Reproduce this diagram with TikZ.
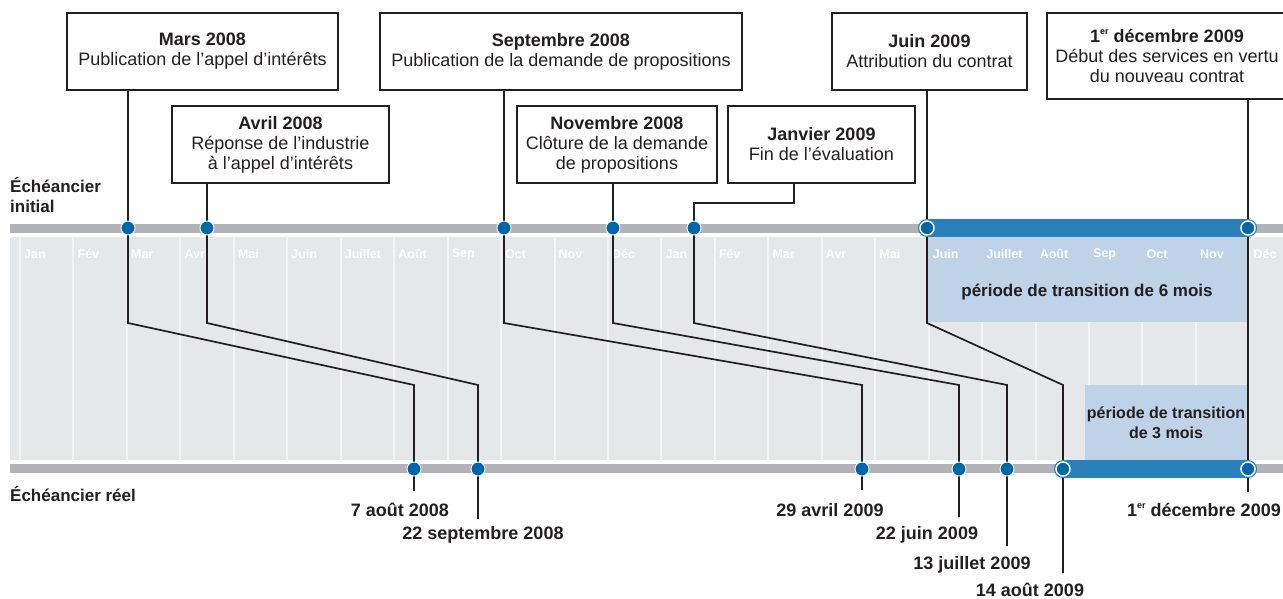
\documentclass[tikz,border=0pt]{standalone}
\usepackage{fontspec}
\setmainfont{Liberation Sans}
\usepackage{xcolor}
\usepackage{tikz}
\usetikzlibrary{positioning}
\definecolor{tlink}{RGB}{35,31,32}
\definecolor{tband}{RGB}{230,231,232}
\definecolor{tsep}{RGB}{244,244,245}
\definecolor{trail}{RGB}{177,179,182}
\definecolor{tdot}{RGB}{0,103,166}
\definecolor{tspan}{RGB}{41,128,187}
\definecolor{ttrans}{RGB}{190,210,232}
\newcommand{\ersup}{\raisebox{0.45em}{\fontsize{9}{9}\selectfont er}}
\tikzset{
    evbox/.style={rectangle, draw=tlink, line width=2pt, fill=white, text=tlink, align=center, inner sep=0pt, font=\fontsize{18}{20}\selectfont},
    link/.style={draw=tlink, line width=1.7pt},
    dot/.style={circle, fill=tdot, draw=white, line width=0.9pt, minimum size=14pt, inner sep=0pt},
    hollow/.style={dot, line width=1.5pt},
    span/.style={draw=tspan, line width=18pt, line cap=round},
    month/.style={anchor=west, inner sep=0pt, text=white, font=\bfseries\fontsize{12.5}{13}\selectfont},
    monthsep/.style={draw=tsep, line width=2pt},
    transtext/.style={align=center, inner sep=0pt, text=tlink, font=\bfseries\fontsize{17}{20}\selectfont},
    datelbl/.style={anchor=base, inner sep=0pt, text=tlink, font=\bfseries\fontsize{18}{20}\selectfont},
    railname/.style={anchor=west, align=left, inner sep=0pt, text=tlink, font=\bfseries\fontsize{17}{20}\selectfont}
}

\begin{document}
\begin{tikzpicture}[x=1pt, y=-1pt]
    \useasboundingbox (0,0) rectangle (1283,599);

    % Month band
    \fill[tband] (10,237) rectangle (1283,460);
    \foreach \i in {0,...,23}
        \draw[monthsep] ({20+53.45*\i},237) -- ++(0,223);

    % Transition periods
    \fill[ttrans] (927,237) rectangle (1248,322);
    \fill[ttrans] (1085,385) rectangle (1248,460);
    \node[transtext] (trans6) at (1087,292) {période de transition de 6 mois};
    \node[transtext, font=\bfseries\fontsize{16}{20}\selectfont] (trans3) at (1166,423) {période de transition\\de 3 mois};

    % Month labels
    \foreach \m [count=\i from 0] in {Jan,Fév,Mar,Avr,Mai,Juin,Juillet,Août,Sep,Oct,Nov,Déc,Jan,Fév,Mar,Avr,Mai,Juin,Juillet,Août,Sep,Oct,Nov,Déc}
        \node[month] (m\i) at ({24+53.45*\i},254) {\m};

    % Rails
    \fill[trail] (10,224) rectangle (1283,233);
    \fill[trail] (10,464) rectangle (1283,473);
    \node[railname] (initname) at (10,195) {Échéancier\\initial};
    \node[railname] (realname) at (10,494) {Échéancier réel};

    % Milestones
    \node[evbox, minimum width=271pt, minimum height=77pt] (mar) at (202.5,51.5) {\textbf{Mars 2008}\\Publication de l’appel d’intérêts};
    \node[evbox, minimum width=217pt, minimum height=77pt] (avr) at (280.5,144.5) {\textbf{Avril 2008}\\Réponse de l’industrie\\à l’appel d’intérêts};
    \node[evbox, minimum width=362pt, minimum height=77pt] (sep) at (561,51.5) {\textbf{Septembre 2008}\\Publication de la demande de propositions};
    \node[evbox, minimum width=200pt, minimum height=77pt] (nov) at (617,144.5) {\textbf{Novembre 2008}\\Clôture de la demande\\de propositions};
    \node[evbox, minimum width=187pt, minimum height=77pt] (jan) at (821.5,144.5) {\textbf{Janvier 2009}\\Fin de l’évaluation};
    \node[evbox, minimum width=195pt, minimum height=77pt] (juin) at (929.5,51.5) {\textbf{Juin 2009}\\Attribution du contrat};
    \node[evbox, minimum width=240pt, minimum height=86pt] (dec) at (1167,56) {\textbf{1\ersup\ décembre 2009}\\Début des services en vertu\\du nouveau contrat};

    % Points on the rails
    \coordinate (i-mar) at (128,228);
    \coordinate (i-avr) at (207,228);
    \coordinate (i-sep) at (504,228);
    \coordinate (i-nov) at (613,228);
    \coordinate (i-jan) at (694,228);
    \coordinate (i-juin) at (927,228);
    \coordinate (i-dec) at (1248,228);
    \coordinate (r-mar) at (414,469);
    \coordinate (r-avr) at (478,469);
    \coordinate (r-sep) at (862,469);
    \coordinate (r-nov) at (959,469);
    \coordinate (r-jan) at (1007,469);
    \coordinate (r-juin) at (1063,469);
    \coordinate (r-dec) at (1248,469);
    \coordinate (jan-k) at (794,203);
    \coordinate (kneetop) at (0,323);
    \coordinate (kneebot) at (0,385);

    % Connections
    \foreach \e in {mar,avr,sep,nov,juin,dec}
        \draw[link] (\e.south -| i-\e) -- (i-\e);
    \draw[link] (jan.south -| jan-k) -- (jan-k) -| (i-jan);
    \foreach \e/\t in {mar/22,avr/50,sep/21,nov/48,jan/77,juin/104}
        \draw[link] (i-\e) -- (i-\e |- kneetop) -- (r-\e |- kneebot) -- (r-\e) -- ++(0,\t);
    \draw[link] (i-dec) -- (r-dec) -- ++(0,23);

    % Transition bars
    \draw[span] (i-juin) -- (i-dec);
    \draw[span] (r-juin) -- (r-dec);

    % Dots
    \foreach \e in {mar,avr,sep,nov,jan} {
        \node[dot] (di-\e) at (i-\e) {};
        \node[dot] (dr-\e) at (r-\e) {};
    }
    \foreach \e in {juin,dec} {
        \node[hollow] (di-\e) at (i-\e) {};
        \node[hollow] (dr-\e) at (r-\e) {};
    }

    % Actual dates
    \node[datelbl] (l-mar) at (400,516.5) {7 août 2008};
    \node[datelbl] (l-avr) at (483,539.5) {22 septembre 2008};
    \node[datelbl] (l-sep) at (830,516.5) {29 avril 2009};
    \node[datelbl] (l-nov) at (927,539.5) {22 juin 2009};
    \node[datelbl] (l-jan) at (972,569.5) {13 juillet 2009};
    \node[datelbl] (l-juin) at (1030,596) {14 août 2009};
    \node[datelbl, anchor=base east] (l-dec) at (1281,516.5) {1\ersup\ décembre 2009};
\end{tikzpicture}
\end{document}
